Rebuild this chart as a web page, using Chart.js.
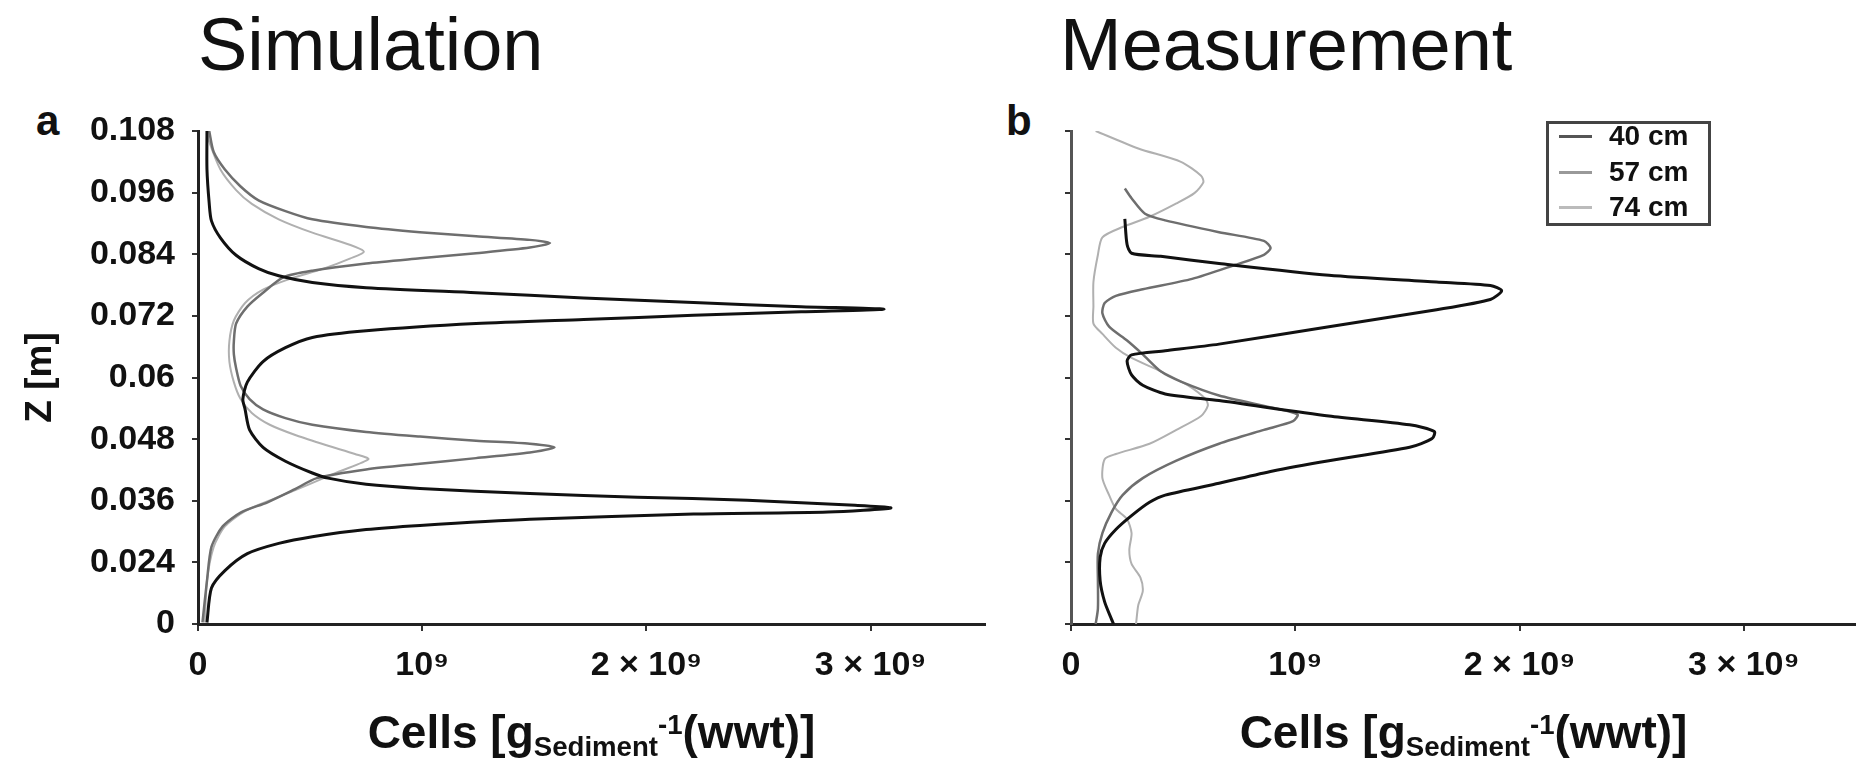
<!DOCTYPE html>
<html>
<head>
<meta charset="utf-8">
<script src="https://cdn.jsdelivr.net/npm/chart.js@4.4.1/dist/chart.umd.min.js"></script>
<style>
  body { margin: 0; width: 1856px; height: 760px; background: #fff; position: relative; overflow: hidden;
         font-family: "Liberation Sans", Arial, sans-serif; color: #111; }
  canvas { position: absolute; top: 0; }
  .txt { position: absolute; white-space: nowrap; line-height: 1; }
  .panel-title { font-size: 74px; top: 8px; }
  .panel-letter { font-size: 42px; font-weight: bold; top: 100px; }
  .x-title { font-size: 46px; font-weight: bold; top: 709px; text-align: center; }
  .x-title .sub { font-size: 60%; vertical-align: -0.3em; }
  .x-title .sup { font-size: 60%; vertical-align: 0.5em; }
  #legend { position: absolute; left: 1546px; top: 121px; width: 159px; height: 99px; border: 3px solid #444; }
  #legend .rows { margin-top: -6px; }
  #legend .row { height: 35.5px; line-height: 35.5px; font-size: 28px; font-weight: bold; position: relative; }
  #legend .swatch { position: absolute; left: 10px; top: 17px; width: 33px; height: 3px; }
  #legend .label { position: absolute; left: 60px; }
</style>
</head>
<body>
<div class="txt panel-title" style="left:198px">Simulation</div>
<div class="txt panel-title" style="left:1060px">Measurement</div>
<div class="txt panel-letter" style="left:36px">a</div>
<div class="txt panel-letter" style="left:1006px">b</div>

<canvas id="simChart" width="1000" height="760" style="left:0"></canvas>
<canvas id="measChart" width="856" height="760" style="left:1000px"></canvas>

<div class="txt x-title" style="left:198px; width:787px">Cells [g<span class="sub">Sediment</span><span class="sup">-1</span>(wwt)]</div>
<div class="txt x-title" style="left:1071px; width:785px">Cells [g<span class="sub">Sediment</span><span class="sup">-1</span>(wwt)]</div>

<div id="legend"><div class="rows"></div></div>

<script>
// series names (sampling depth)
const seriesNames = ['40 cm', '57 cm', '74 cm'];

// axis ticks
const xTickValues = [0, 1e9, 2e9, 3e9];
const xTickLabels = ['0', '10⁹', '2 × 10⁹', '3 × 10⁹'];
const yTickValues = [0.012, 0.024, 0.036, 0.048, 0.06, 0.072, 0.084, 0.096, 0.108];
const yTickLabels = ['0', '0.024', '0.036', '0.048', '0.06', '0.072', '0.084', '0.096', '0.108'];

// cell counts are in units of 10^9 cells per g sediment
// --- simulation ---
const simDepth40 = [0.0123, 0.0190, 0.0224, 0.0257, 0.0277, 0.0290, 0.0304, 0.0312, 0.0324, 0.0334, 0.0338, 0.0346, 0.0351, 0.0361, 0.0367, 0.0374, 0.0384, 0.0392, 0.0404, 0.0414, 0.0437, 0.0464, 0.0498, 0.0538, 0.0558, 0.0591, 0.0631, 0.0658, 0.0678, 0.0691, 0.0705, 0.0713, 0.0721, 0.0728, 0.0733, 0.0738, 0.0746, 0.0755, 0.0765, 0.0775, 0.0785, 0.0798, 0.0812, 0.0838, 0.0872, 0.0905, 0.0939, 0.1005, 0.108];
const simCells40 = [0.04, 0.06, 0.12, 0.22, 0.36, 0.51, 0.75, 0.99, 1.48, 2.21, 2.81, 3.09, 2.93, 2.45, 1.96, 1.48, 0.99, 0.75, 0.58, 0.51, 0.39, 0.29, 0.23, 0.21, 0.20, 0.22, 0.29, 0.39, 0.51, 0.75, 1.24, 1.72, 2.21, 2.69, 3.06, 2.69, 2.21, 1.72, 1.24, 0.75, 0.51, 0.36, 0.27, 0.17, 0.10, 0.06, 0.05, 0.04, 0.04];

const simDepth57 = [0.0123, 0.0204, 0.0270, 0.0310, 0.0337, 0.0357, 0.0382, 0.0404, 0.0421, 0.0432, 0.0443, 0.0454, 0.0464, 0.0471, 0.0477, 0.0485, 0.0494, 0.0508, 0.0521, 0.0538, 0.0558, 0.0584, 0.0618, 0.0645, 0.0671, 0.0705, 0.0738, 0.0765, 0.0795, 0.0808, 0.0822, 0.0832, 0.0842, 0.0853, 0.0862, 0.0868, 0.0875, 0.0883, 0.0893, 0.0908, 0.0924, 0.0945, 0.0972, 0.1005, 0.1039, 0.108];
const simCells57 = [0.02, 0.04, 0.06, 0.11, 0.19, 0.31, 0.43, 0.53, 0.75, 0.99, 1.24, 1.48, 1.59, 1.48, 1.24, 0.99, 0.75, 0.51, 0.39, 0.29, 0.23, 0.19, 0.17, 0.16, 0.16, 0.17, 0.22, 0.29, 0.38, 0.51, 0.75, 0.99, 1.24, 1.48, 1.57, 1.48, 1.24, 0.99, 0.75, 0.51, 0.39, 0.27, 0.19, 0.12, 0.07, 0.05];

const simDepth74 = [0.0123, 0.0204, 0.0270, 0.0310, 0.0340, 0.0364, 0.0391, 0.0417, 0.0441, 0.0451, 0.0467, 0.0487, 0.0508, 0.0531, 0.0558, 0.0591, 0.0631, 0.0671, 0.0711, 0.0745, 0.0771, 0.0792, 0.0812, 0.0832, 0.0845, 0.0858, 0.0882, 0.0908, 0.0938, 0.0965, 0.1005, 0.1059, 0.108];
const simCells74 = [0.03, 0.04, 0.07, 0.12, 0.21, 0.34, 0.49, 0.63, 0.76, 0.70, 0.58, 0.44, 0.32, 0.24, 0.19, 0.16, 0.14, 0.14, 0.16, 0.21, 0.29, 0.41, 0.56, 0.68, 0.74, 0.68, 0.51, 0.36, 0.24, 0.17, 0.10, 0.05, 0.04];

// --- measurement ---
const measDepth40 = [0.0909, 0.0859, 0.0842, 0.0836, 0.0822, 0.0799, 0.0786, 0.0779, 0.0769, 0.0752, 0.0732, 0.0699, 0.0665, 0.0652, 0.0644, 0.0632, 0.0605, 0.0585, 0.0568, 0.0555, 0.0525, 0.0508, 0.0495, 0.0481, 0.0464, 0.0438, 0.0418, 0.0394, 0.0371, 0.0357, 0.0331, 0.0304, 0.0277, 0.0250, 0.0204, 0.0163, 0.0130, 0.012];
const measCells40 = [0.24, 0.25, 0.27, 0.40, 0.66, 1.15, 1.63, 1.87, 1.92, 1.87, 1.63, 1.15, 0.66, 0.42, 0.27, 0.25, 0.27, 0.32, 0.42, 0.66, 1.15, 1.51, 1.62, 1.61, 1.51, 1.15, 0.90, 0.66, 0.42, 0.35, 0.27, 0.20, 0.15, 0.13, 0.13, 0.15, 0.18, 0.19];

const measDepth57 = [0.0968, 0.0949, 0.0919, 0.0906, 0.0883, 0.0866, 0.0852, 0.0839, 0.0819, 0.0792, 0.0772, 0.0759, 0.0745, 0.0725, 0.0699, 0.0672, 0.0645, 0.0612, 0.0592, 0.0565, 0.0541, 0.0528, 0.0515, 0.0498, 0.0471, 0.0438, 0.0404, 0.0371, 0.0337, 0.0297, 0.0257, 0.0204, 0.0150, 0.012];
const measCells57 = [0.24, 0.27, 0.33, 0.42, 0.66, 0.86, 0.89, 0.86, 0.73, 0.54, 0.32, 0.20, 0.15, 0.14, 0.17, 0.25, 0.32, 0.40, 0.49, 0.66, 0.90, 1.01, 0.99, 0.86, 0.66, 0.47, 0.32, 0.23, 0.18, 0.14, 0.12, 0.12, 0.12, 0.11];

const measDepth74 = [0.108, 0.1046, 0.1020, 0.0993, 0.0980, 0.0959, 0.0939, 0.0913, 0.0893, 0.0873, 0.0839, 0.0786, 0.0739, 0.0705, 0.0685, 0.0658, 0.0638, 0.0612, 0.0585, 0.0558, 0.0545, 0.0525, 0.0498, 0.0471, 0.0451, 0.0441, 0.0404, 0.0371, 0.0344, 0.0324, 0.0297, 0.0264, 0.0237, 0.0210, 0.0184, 0.0157, 0.012];
const measCells74 = [0.11, 0.30, 0.49, 0.58, 0.59, 0.55, 0.47, 0.35, 0.23, 0.14, 0.12, 0.10, 0.10, 0.10, 0.14, 0.20, 0.27, 0.40, 0.52, 0.60, 0.61, 0.58, 0.47, 0.35, 0.20, 0.15, 0.14, 0.17, 0.20, 0.25, 0.27, 0.26, 0.27, 0.31, 0.32, 0.30, 0.29];

// line styles per series
const lineColors = ['#111111', '#6e6e6e', '#b0b0b0'];
const lineWidths = [3, 2.5, 2];
const legendColors = ['#555555', '#999999', '#bbbbbb'];

const FONT = "'Liberation Sans', Arial, sans-serif";

function pairs(depth, cells) {
    return depth.map((z, i) => ({ x: cells[i] * 1e9, y: z }));
}

function makeDatasets(list) {
    return list.map((s, i) => ({
        label: seriesNames[i],
        data: pairs(s[0], s[1]),
        showLine: true,
        borderColor: lineColors[i],
        borderWidth: lineWidths[i],
        pointRadius: 0,
        tension: 0.25,
        fill: false
    }));
}

function makePanel(id, list, cfg) {
    const ctx = document.getElementById(id).getContext('2d');
    return new Chart(ctx, {
        type: 'scatter',
        data: { datasets: makeDatasets(list) },
        options: {
            responsive: false,
            animation: false,
            layout: { padding: { top: 131, right: cfg.padRight, bottom: 0, left: 0 } },
            plugins: { legend: { display: false }, tooltip: { enabled: false } },
            scales: {
                x: {
                    type: 'linear',
                    min: 0,
                    max: cfg.xMax,
                    afterBuildTicks: (scale) => { scale.ticks = xTickValues.map(v => ({ value: v })); },
                    afterFit: (scale) => { scale.height = 136; },
                    border: { display: true, color: '#222', width: 3 },
                    grid: { drawOnChartArea: false, drawTicks: true, tickLength: 7, color: '#333', lineWidth: 2 },
                    ticks: {
                        autoSkip: false, maxRotation: 0, padding: 14, color: '#111',
                        font: { family: FONT, size: 34, weight: 'bold' },
                        callback: (v, i) => xTickLabels[i]
                    }
                },
                y: {
                    type: 'linear',
                    min: 0.012,
                    max: 0.108,
                    afterBuildTicks: (scale) => { scale.ticks = yTickValues.map(v => ({ value: v })); },
                    afterFit: (scale) => { scale.width = cfg.yWidth; },
                    border: { display: true, color: cfg.yAxisColor, width: 3 },
                    grid: { drawOnChartArea: false, drawTicks: true, tickLength: 6, color: '#333', lineWidth: 2 },
                    ticks: {
                        display: cfg.yLabels, padding: 17, color: '#111',
                        font: { family: FONT, size: 34, weight: 'bold' },
                        callback: (v, i) => yTickLabels[i]
                    },
                    title: {
                        display: cfg.yLabels,
                        text: 'Z [m]',
                        color: '#111',
                        padding: { top: 19, bottom: 0 },
                        font: { family: FONT, size: 37, weight: 'bold' }
                    }
                }
            }
        }
    });
}

// Simulation panel (a)
makePanel('simChart', [
    [simDepth40, simCells40],
    [simDepth57, simCells57],
    [simDepth74, simCells74]
], { xMax: 3.51e9, padRight: 15, yWidth: 198, yLabels: true, yAxisColor: '#222' });

// Measurement panel (b)
makePanel('measChart', [
    [measDepth40, measCells40],
    [measDepth57, measCells57],
    [measDepth74, measCells74]
], { xMax: 3.5e9, padRight: 0, yWidth: 71, yLabels: false, yAxisColor: '#555' });

// legend for panel b
const rows = document.querySelector('#legend .rows');
seriesNames.forEach((name, i) => {
    const row = document.createElement('div');
    row.className = 'row';
    row.innerHTML = '<span class="swatch" style="background:' + legendColors[i] + '"></span><span class="label">' + name + '</span>';
    rows.appendChild(row);
});
</script>
</body>
</html>
